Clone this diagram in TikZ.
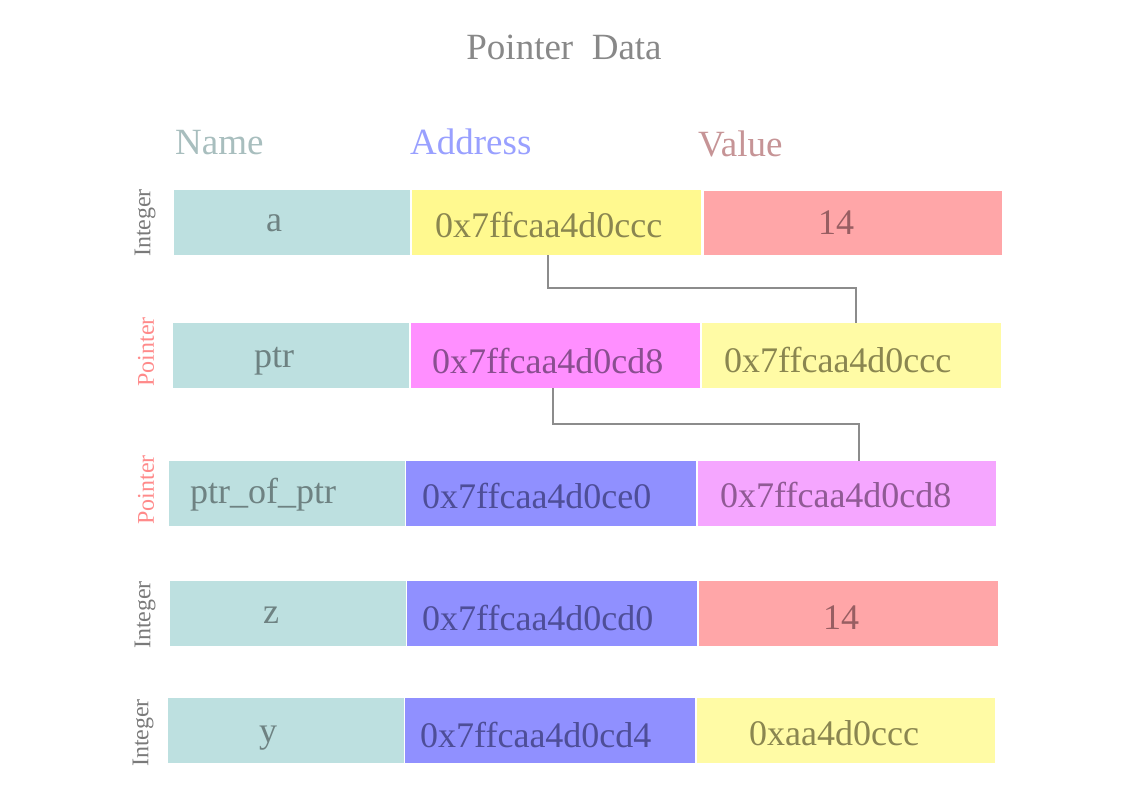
\documentclass[tikz,border=0pt]{standalone}
\usepackage{fontspec}
\setmainfont{Liberation Serif}
\definecolor{namebox}{HTML}{BDE0E0}
\definecolor{nametxt}{HTML}{6E8282}
\definecolor{yelbox}{HTML}{FFF98F}
\definecolor{yelbox2}{HTML}{FFFBA5}
\definecolor{yeltxt}{HTML}{8A8650}
\definecolor{pinkbox}{HTML}{FFA6A8}
\definecolor{pinktxt}{HTML}{985E62}
\definecolor{magbox}{HTML}{FF8FFF}
\definecolor{magtxt}{HTML}{8A4E90}
\definecolor{lilbox}{HTML}{F5A6FF}
\definecolor{liltxt}{HTML}{905A95}
\definecolor{bluebox}{HTML}{9090FF}
\definecolor{bluetxt}{HTML}{4E4E98}
\definecolor{titlecol}{HTML}{888888}
\definecolor{namehead}{HTML}{A8BEBE}
\definecolor{addrhead}{HTML}{99A0FF}
\definecolor{valhead}{HTML}{C69496}
\definecolor{intcol}{HTML}{7A7A7A}
\definecolor{ptrcol}{HTML}{FF8A8A}
\definecolor{conncol}{HTML}{8C8C8C}
\tikzset{
  cell/.style={draw=none,inner sep=0pt,anchor=north west,minimum height=65pt},
  namecell/.style={cell,fill=namebox,minimum width=236pt},
  addrcell/.style={cell,minimum width=289pt},
  valcell/.style={cell,minimum width=298pt},
  txt/.style={inner sep=0pt,font=\fontsize{36}{42}\selectfont},
  headtxt/.style={inner sep=0pt,anchor=base west,font=\fontsize{37}{44}\selectfont},
  sidetxt/.style={inner sep=0pt,rotate=90,font=\fontsize{24}{28}\selectfont},
  conn/.style={draw=conncol,line width=1.5pt}
}
\begin{document}
\begin{tikzpicture}[x=1pt,y=-1pt]
\useasboundingbox (0,0) rectangle (1123,794);
% title and headers
\node[inner sep=0pt,anchor=base,font=\fontsize{37}{44}\selectfont,text=titlecol] (title) at (564,60) {Pointer\ \ Data};
\node[headtxt,text=namehead] (hname) at (175,155) {Name};
\node[headtxt,text=addrhead] (haddr) at (410,155) {Address};
\node[headtxt,text=valhead] (hval) at (698,157) {Value};
% side labels
\node[sidetxt,text=intcol] (s1) at (145,223) {Integer};
\node[sidetxt,text=ptrcol] (s2) at (146,352) {Pointer};
\node[sidetxt,text=ptrcol] (s3) at (146,490) {Pointer};
\node[sidetxt,text=intcol] (s4) at (145,615) {Integer};
\node[sidetxt,text=intcol] (s5) at (143,733) {Integer};
% row 1
\node[namecell] (aname) at (174,190) {};
\node[addrcell,fill=yelbox] (aaddr) at (412,190) {};
\node[valcell,fill=pinkbox,minimum height=64pt] (aval) at (704,191) {};
\node[txt,anchor=base,text=nametxt] (anametxt) at (274,232) {a};
\node[txt,anchor=base west,text=yeltxt] (aaddrtxt) at (435,237) {0x7ffcaa4d0ccc};
\node[txt,anchor=base,text=pinktxt] (avaltxt) at (836,235) {14};
% row 2
\node[namecell] (pname) at (173,323) {};
\node[addrcell,fill=magbox] (paddr) at (411,323) {};
\node[valcell,fill=yelbox2,minimum width=299pt] (pval) at (702,323) {};
\node[txt,anchor=base,text=nametxt] (pnametxt) at (274,367) {ptr};
\node[txt,anchor=base west,text=magtxt] (paddrtxt) at (432,373) {0x7ffcaa4d0cd8};
\node[txt,anchor=base west,text=yeltxt] (pvaltxt) at (724,372) {0x7ffcaa4d0ccc};
% row 3
\node[namecell] (ppname) at (169,461) {};
\node[addrcell,fill=bluebox,minimum width=290pt] (ppaddr) at (406,461) {};
\node[valcell,fill=lilbox] (ppval) at (698,461) {};
\node[txt,anchor=base west,text=nametxt] (ppnametxt) at (190,503) {ptr\_of\_ptr};
\node[txt,anchor=base west,text=bluetxt] (ppaddrtxt) at (422,508) {0x7ffcaa4d0ce0};
\node[txt,anchor=base west,text=liltxt] (ppvaltxt) at (720,507) {0x7ffcaa4d0cd8};
% row 4
\node[namecell] (zname) at (170,581) {};
\node[addrcell,fill=bluebox,minimum width=290pt] (zaddr) at (407,581) {};
\node[valcell,fill=pinkbox,minimum width=299pt] (zval) at (699,581) {};
\node[txt,anchor=base,text=nametxt] (znametxt) at (271,623) {z};
\node[txt,anchor=base west,text=bluetxt] (zaddrtxt) at (422,630) {0x7ffcaa4d0cd0};
\node[txt,anchor=base,text=pinktxt] (zvaltxt) at (841,629) {14};
% row 5
\node[namecell] (yname) at (168,698) {};
\node[addrcell,fill=bluebox,minimum width=290pt] (yaddr) at (405,698) {};
\node[valcell,fill=yelbox2] (yval) at (697,698) {};
\node[txt,anchor=base,text=nametxt] (ynametxt) at (268,742) {y};
\node[txt,anchor=base west,text=bluetxt] (yaddrtxt) at (420,747) {0x7ffcaa4d0cd4};
\node[txt,anchor=base west,text=yeltxt] (yvaltxt) at (749,745) {0xaa4d0ccc};
% connectors
\coordinate (k1) at (548,288);
\coordinate (k1e) at (856,0);
\draw[conn] (aaddr.south -| k1) -- (k1) -| (pval.north -| k1e);
\coordinate (k2) at (553,424);
\coordinate (k2e) at (859,0);
\draw[conn] (paddr.south -| k2) -- (k2) -| (ppval.north -| k2e);
\end{tikzpicture}
\end{document}
